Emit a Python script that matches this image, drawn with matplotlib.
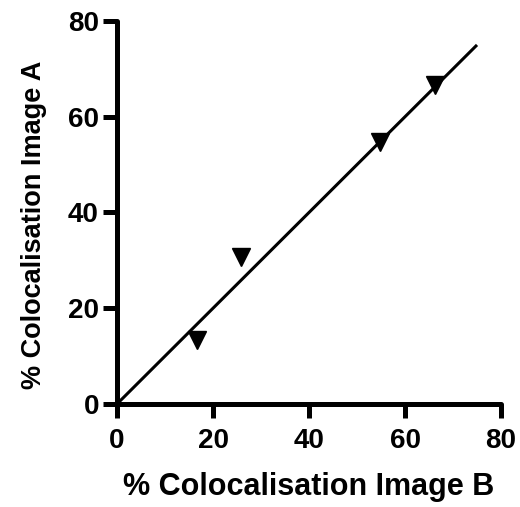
import matplotlib
matplotlib.use("Agg")
import matplotlib.pyplot as plt

img_b = [16.7, 25.8, 54.8, 66.3]
img_a = [13.4, 30.7, 54.7, 66.6]
fit_x = [0, 75]
fit_y = [0, 75]
ticks = [0, 20, 40, 60, 80]

plt.rcParams['font.family'] = ['Liberation Sans', 'DejaVu Sans']
plt.rcParams['font.weight'] = 'bold'

fig = plt.figure(figsize=(5.2, 5.07), dpi=100)
ax = fig.add_axes([0.225, 0.2032, 0.7385, 0.7554])
ax.plot(fit_x, fit_y, color='black', lw=2.2, solid_capstyle='butt', clip_on=False)
ax.plot(img_b, img_a, linestyle='none', marker='v', ms=13, color='black', clip_on=False)

ax.set_xlim(0, 80)
ax.set_ylim(0, 80)
ax.set_xticks(ticks)
ax.set_yticks(ticks)
for s in ['top', 'right']:
    ax.spines[s].set_visible(False)
for s in ['left', 'bottom']:
    ax.spines[s].set_linewidth(3.6)
    ax.spines[s].set_capstyle('round')
ax.tick_params(width=3.6, length=10, labelsize=20)
ax.tick_params(axis='x', pad=7)
ax.tick_params(axis='y', pad=3)
for t in ax.xaxis.get_major_ticks() + ax.yaxis.get_major_ticks():
    t.tick1line.set_solid_capstyle('round')
for lab in ax.get_xticklabels() + ax.get_yticklabels():
    lab.set_fontweight('bold')
ax.set_xlabel('% Colocalisation Image B', fontsize=22, fontweight='bold', labelpad=13)
ax.set_ylabel('% Colocalisation Image A', fontsize=19.5, fontweight='bold')
ax.yaxis.set_label_coords(-0.182, 0.467)

fig.savefig('out.png', dpi=100)
